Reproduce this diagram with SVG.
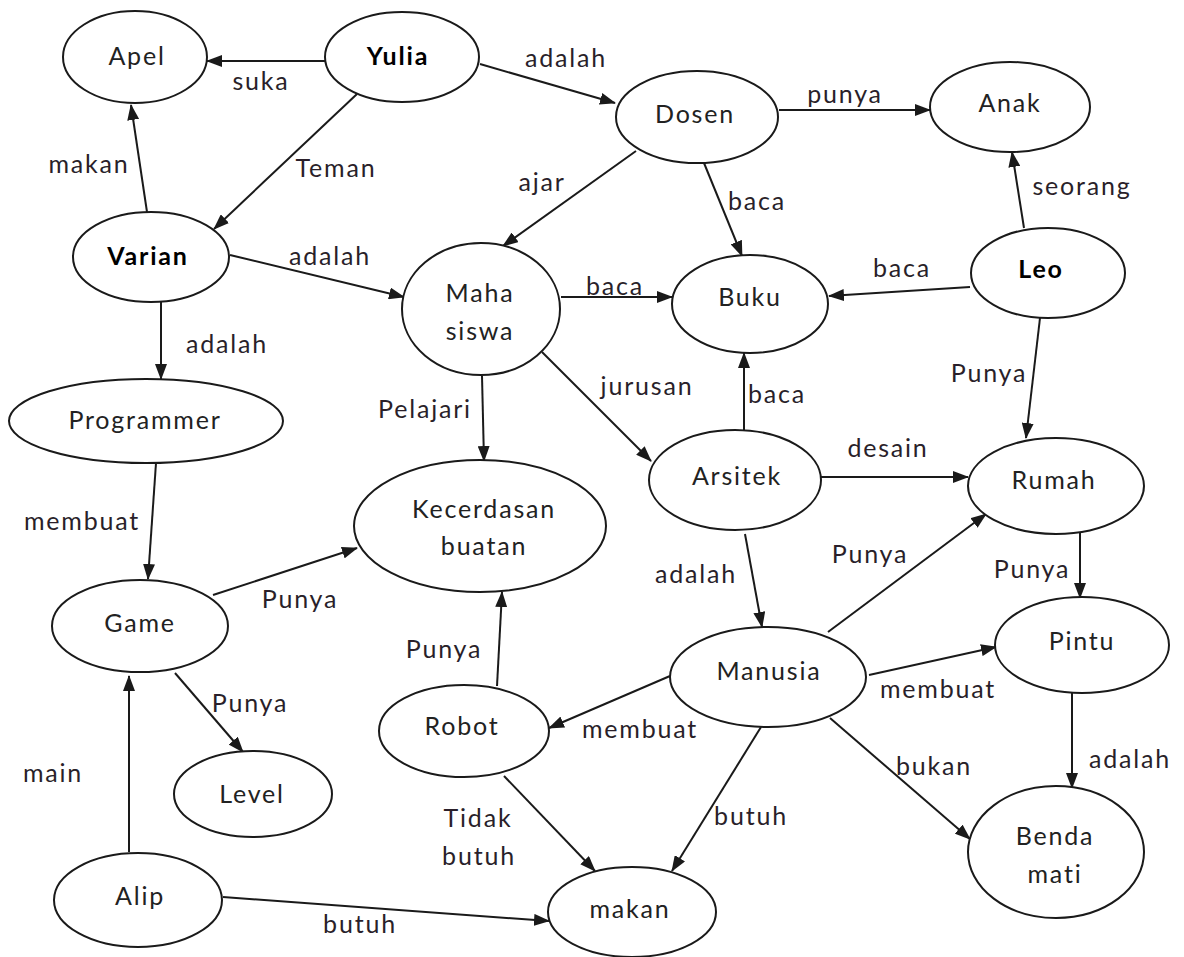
<svg xmlns="http://www.w3.org/2000/svg" width="1184" height="957" viewBox="0 0 1184 957">
<defs>
<marker id="ah" markerWidth="16" markerHeight="12" refX="15" refY="6" orient="auto" markerUnits="userSpaceOnUse">
<path d="M0,0 L16,6 L0,12 Z" fill="#1a1a1a"/>
</marker>
<style>
.n ellipse{fill:#fff;stroke:#1a1a1a;stroke-width:2}
.n text{font-family:Lato,"Liberation Sans",sans-serif;font-size:25px;letter-spacing:1.8px;fill:#222;text-anchor:middle;dominant-baseline:central}
.n text.b{font-weight:bold;fill:#000}
#edges line{stroke:#1a1a1a;stroke-width:2;marker-end:url(#ah)}
#edges text{font-family:Lato,"Liberation Sans",sans-serif;font-size:25px;letter-spacing:1.8px;fill:#2a1f2a;text-anchor:middle;dominant-baseline:central}
</style>
</defs>
<rect width="1184" height="957" fill="#fff"/>
<g id="edges">
<line x1="325" y1="61" x2="207" y2="61"/><text x="261" y="80">suka</text>
<line x1="480" y1="64" x2="615" y2="103"/><text x="566" y="57">adalah</text>
<line x1="357" y1="94" x2="214" y2="229"/><text x="336" y="167">Teman</text>
<line x1="147" y1="212" x2="131" y2="105"/><text x="89" y="163">makan</text>
<line x1="230" y1="255" x2="404" y2="297"/><text x="330" y="255">adalah</text>
<line x1="161" y1="302" x2="161" y2="379"/><text x="227" y="343">adalah</text>
<line x1="636" y1="151" x2="503" y2="246"/><text x="542" y="181">ajar</text>
<line x1="779" y1="110" x2="930" y2="110"/><text x="845" y="93">punya</text>
<line x1="704" y1="163" x2="742" y2="256"/><text x="757" y="200">baca</text>
<line x1="1024" y1="228" x2="1012" y2="152"/><text x="1082" y="185">seorang</text>
<line x1="970" y1="287" x2="829" y2="296"/><text x="902" y="267">baca</text>
<line x1="1040" y1="318" x2="1026" y2="438"/><text x="989" y="372">Punya</text>
<line x1="561" y1="297" x2="672" y2="297"/><text x="615" y="285">baca</text>
<line x1="482" y1="376" x2="484" y2="461"/><text x="425" y="408">Pelajari</text>
<line x1="542" y1="352" x2="651" y2="461"/><text x="647" y="385">jurusan</text>
<line x1="744" y1="430" x2="744" y2="353"/><text x="777" y="393">baca</text>
<line x1="821" y1="477" x2="968" y2="477"/><text x="888" y="447">desain</text>
<line x1="745" y1="534" x2="762" y2="627"/><text x="696" y="573">adalah</text>
<line x1="828" y1="632" x2="986" y2="514"/><text x="870" y="553">Punya</text>
<line x1="1080" y1="533" x2="1080" y2="598"/><text x="1032" y="568">Punya</text>
<line x1="869" y1="675" x2="996" y2="647"/><text x="938" y="688">membuat</text>
<line x1="1072" y1="693" x2="1072" y2="788"/><text x="1130" y="758">adalah</text>
<line x1="830" y1="718" x2="970" y2="839"/><text x="934" y="765">bukan</text>
<line x1="761" y1="727" x2="672" y2="871"/><text x="751" y="815">butuh</text>
<line x1="670" y1="676" x2="549" y2="728"/><text x="640" y="728">membuat</text>
<line x1="497" y1="686" x2="502" y2="592"/><text x="444" y="648">Punya</text>
<line x1="504" y1="776" x2="595" y2="871"/><text x="478" y="817">Tidak</text><text x="479" y="855">butuh</text>
<line x1="156" y1="463" x2="148" y2="579"/><text x="82" y="520">membuat</text>
<line x1="213" y1="595" x2="357" y2="548"/><text x="300" y="598">Punya</text>
<line x1="175" y1="673" x2="243" y2="752"/><text x="250" y="702">Punya</text>
<line x1="129" y1="852" x2="129" y2="676"/><text x="53" y="772">main</text>
<line x1="223" y1="897" x2="549" y2="921"/><text x="360" y="923">butuh</text>
</g>
<g id="apel" class="n"><ellipse cx="135" cy="57" rx="72" ry="46"/><text x="137" y="55">Apel</text></g>
<g id="yulia" class="n"><ellipse cx="402" cy="57" rx="77" ry="45"/><text class="b" x="398" y="55">Yulia</text></g>
<g id="varian" class="n"><ellipse cx="151" cy="257" rx="78" ry="45"/><text class="b" x="148" y="255">Varian</text></g>
<g id="dosen" class="n"><ellipse cx="697" cy="117" rx="81" ry="46"/><text x="695" y="113">Dosen</text></g>
<g id="anak" class="n"><ellipse cx="1010" cy="107" rx="80" ry="45"/><text x="1010" y="102">Anak</text></g>
<g id="mahasiswa" class="n"><ellipse cx="481" cy="309" rx="79" ry="66"/><text x="480" y="292">Maha</text><text x="480" y="330">siswa</text></g>
<g id="buku" class="n"><ellipse cx="750" cy="304" rx="78" ry="49"/><text x="750" y="296">Buku</text></g>
<g id="leo" class="n"><ellipse cx="1048" cy="273" rx="77" ry="45"/><text class="b" x="1041" y="268">Leo</text></g>
<g id="programmer" class="n"><ellipse cx="146" cy="421" rx="137" ry="42"/><text x="145" y="419">Programmer</text></g>
<g id="kecerdasan" class="n"><ellipse cx="480" cy="526" rx="126" ry="66"/><text x="484" y="508">Kecerdasan</text><text x="484" y="545">buatan</text></g>
<g id="arsitek" class="n"><ellipse cx="735" cy="480" rx="86" ry="50"/><text x="737" y="475">Arsitek</text></g>
<g id="rumah" class="n"><ellipse cx="1056" cy="486" rx="88" ry="48"/><text x="1054" y="479">Rumah</text></g>
<g id="game" class="n"><ellipse cx="140" cy="626" rx="88" ry="46"/><text x="140" y="622">Game</text></g>
<g id="manusia" class="n"><ellipse cx="768" cy="677" rx="98" ry="50"/><text x="769" y="670">Manusia</text></g>
<g id="pintu" class="n"><ellipse cx="1082" cy="645" rx="87" ry="48"/><text x="1082" y="640">Pintu</text></g>
<g id="robot" class="n"><ellipse cx="464" cy="731" rx="85" ry="46"/><text x="462" y="725">Robot</text></g>
<g id="level" class="n"><ellipse cx="253" cy="794" rx="79" ry="43"/><text x="252" y="793">Level</text></g>
<g id="bendamati" class="n"><ellipse cx="1056" cy="852" rx="88" ry="66"/><text x="1055" y="835">Benda</text><text x="1055" y="873">mati</text></g>
<g id="alip" class="n"><ellipse cx="138" cy="900" rx="84" ry="47"/><text x="140" y="895">Alip</text></g>
<g id="makan" class="n"><ellipse cx="632" cy="912" rx="84" ry="45"/><text x="630" y="908">makan</text></g>
</svg>
